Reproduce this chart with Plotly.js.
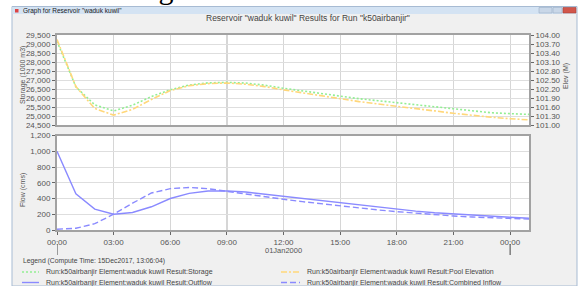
<!DOCTYPE html>
<html>
<head>
<meta charset="utf-8">
<script src="https://cdn.plot.ly/plotly-3.0.1.min.js"></script>
<style>
html,body{margin:0;padding:0;background:#fff;}
#chart{width:579px;height:286px;}
</style>
</head>
<body>
<div id="chart"></div>
<script>
// ---- data ----
const hours = [0,1,2,3,4,5,6,7,8,9,10,11,12,13,14,15,16,17,18,19,20,21,22,23,24,25];
const storage = [29150,26620,25620,25280,25600,26080,26460,26720,26840,26870,26830,26710,26540,26390,26230,26070,25960,25850,25740,25620,25500,25390,25280,25180,25130,25090];
const poolElevation = [103.85,102.28,101.55,101.33,101.52,101.85,102.15,102.31,102.38,102.40,102.36,102.28,102.17,102.07,101.96,101.86,101.78,101.70,101.63,101.55,101.47,101.39,101.32,101.26,101.21,101.17];
const outflow = [1000,460,265,200,222,295,400,465,495,497,482,455,425,395,367,340,312,286,262,240,220,204,189,175,162,150];
const combinedInflow = [10,22,80,200,340,470,525,540,525,490,458,424,390,360,332,305,280,255,233,213,195,178,165,155,148,138];
const tickHours = [0,3,6,9,12,15,18,21,24];
const tickLabels = ["00:00","03:00","06:00","09:00","12:00","15:00","18:00","21:00","00:00"];
const dayMarks = [0,24];
const dayLabel = "01Jan2000";
const seriesNames = [
  "Run:k50airbanjir Element:waduk kuwil Result:Storage",
  "Run:k50airbanjir Element:waduk kuwil Result:Pool Elevation",
  "Run:k50airbanjir Element:waduk kuwil Result:Outflow",
  "Run:k50airbanjir Element:waduk kuwil Result:Combined Inflow"
];

// ---- helpers ----
const W = 579, H = 286;
const px = x => x / W;
const py = y => 1 - y / H;

const cGreen = '#93ee93', cOrange = '#ffd77a', cBlue = '#8a8aff';
const styles = [
  {color: cGreen, dash: '2px,2px', width: 1.6},
  {color: cOrange, dash: '6px,2px,2px,2px', width: 1.6},
  {color: cBlue, dash: 'solid', width: 1.4},
  {color: cBlue, dash: '6px,3px', width: 1.4}
];

const traces = [
  {x: hours, y: storage, xaxis: 'x', yaxis: 'y', mode: 'lines', name: seriesNames[0], line: styles[0]},
  {x: hours, y: poolElevation, xaxis: 'x', yaxis: 'y3', mode: 'lines', name: seriesNames[1], line: styles[1]},
  {x: hours, y: outflow, xaxis: 'x2', yaxis: 'y2', mode: 'lines', name: seriesNames[2], line: styles[2]},
  {x: hours, y: combinedInflow, xaxis: 'x2', yaxis: 'y2', mode: 'lines', name: seriesNames[3], line: styles[3]}
];

const tickFont = {family: 'Liberation Sans, Arial, sans-serif', size: 8, color: '#555'};
const frame = {showline: true, linecolor: '#a2a2a2', linewidth: 2, mirror: true, zeroline: false};
const xDom = [px(57), px(529)];
const topDom = [py(125), py(35)];
const botDom = [py(230), py(135.5)];

const shapes = [];
// window body
shapes.push({type:'rect', xref:'paper', yref:'paper', x0:px(12), x1:px(577), y0:py(286), y1:py(6.5), fillcolor:'#f0f0f0', line:{color:'#a7bbd3', width:1}, layer:'below'});
// title bar
shapes.push({type:'rect', xref:'paper', yref:'paper', x0:px(12.5), x1:px(576.5), y0:py(14), y1:py(7), fillcolor:'#d4e3f3', line:{width:0}, layer:'below'});
// icon
shapes.push({type:'rect', xref:'paper', yref:'paper', x0:px(15), x1:px(18.5), y0:py(12.5), y1:py(9), fillcolor:'#d44', line:{width:0}, layer:'below'});
// window buttons
shapes.push({type:'rect', xref:'paper', yref:'paper', x0:px(539), x1:px(552), y0:py(13), y1:py(7.5), fillcolor:'#c9d7e8', line:{color:'#9aaec6', width:0.6}, layer:'below'});
shapes.push({type:'rect', xref:'paper', yref:'paper', x0:px(553), x1:px(562), y0:py(13), y1:py(7.5), fillcolor:'#c9d7e8', line:{color:'#9aaec6', width:0.6}, layer:'below'});
shapes.push({type:'rect', xref:'paper', yref:'paper', x0:px(563), x1:px(576), y0:py(13), y1:py(7.5), fillcolor:'#d2564b', line:{color:'#a94038', width:0.6}, layer:'below'});
// white plot areas
shapes.push({type:'rect', xref:'paper', yref:'paper', x0:xDom[0], x1:xDom[1], y0:topDom[0], y1:topDom[1], fillcolor:'#fff', line:{width:0}, layer:'below'});
shapes.push({type:'rect', xref:'paper', yref:'paper', x0:xDom[0], x1:xDom[1], y0:botDom[0], y1:botDom[1], fillcolor:'#fff', line:{width:0}, layer:'below'});
// day boundary marks
dayMarks.forEach(d => shapes.push({type:'line', xref:'x2', yref:'paper', x0:d, x1:d, y0:py(255), y1:py(244), line:{color:'#444', width:1}}));
// legend samples
const legPos = [[22,39,272],[281,300,272],[22,39,282.5],[281,300,282.5]];
legPos.forEach((p,i) => shapes.push({type:'line', xref:'paper', yref:'paper', x0:px(p[0]), x1:px(p[1]), y0:py(p[2]), y1:py(p[2]), line:styles[i]}));

const annFont = (s, c) => ({family: 'Liberation Sans, Arial, sans-serif', size: s, color: c || '#444'});
const annotations = [
  {text:'Hasil routing 50 tahun', xref:'paper', yref:'paper', x:px(287), y:py(-11.5), xanchor:'right', yanchor:'middle', showarrow:false, font:{family:'Liberation Serif, Times New Roman, serif', size:30, color:'#000'}},
  {text:'Graph for Reservoir "waduk kuwil"', xref:'paper', yref:'paper', x:px(20.5), y:py(10.6), xanchor:'left', yanchor:'middle', showarrow:false, font:annFont(6.5,'#222')},
  {text:'Reservoir "waduk kuwil" Results for Run "k50airbanjir"', xref:'paper', yref:'paper', x:px(308), y:py(18), xanchor:'center', yanchor:'middle', showarrow:false, font:annFont(8.5,'#444')},
  {text:'Storage (1000 m3)', xref:'paper', yref:'paper', x:px(23), y:py(75), textangle:-90, xanchor:'center', yanchor:'middle', showarrow:false, font:annFont(7,'#555')},
  {text:'Elev (M)', xref:'paper', yref:'paper', x:px(566), y:py(76), textangle:-90, xanchor:'center', yanchor:'middle', showarrow:false, font:annFont(7,'#555')},
  {text:'Flow (cms)', xref:'paper', yref:'paper', x:px(23), y:py(190), textangle:-90, xanchor:'center', yanchor:'middle', showarrow:false, font:annFont(7,'#555')},
  {text:dayLabel, xref:'x2', yref:'paper', x:12, y:py(250), xanchor:'center', yanchor:'middle', showarrow:false, font:annFont(7.5,'#555')},
  {text:'Legend (Compute Time: 15Dec2017, 13:06:04)', xref:'paper', yref:'paper', x:px(21), y:py(261), xanchor:'left', yanchor:'middle', showarrow:false, font:annFont(6.8,'#444')}
];
const legText = [[44,272],[305,272],[44,282.5],[305,282.5]];
legText.forEach((p,i) => annotations.push({text:seriesNames[i], xref:'paper', yref:'paper', x:px(p[0]), y:py(p[1]), xanchor:'left', yanchor:'middle', showarrow:false, font:annFont(7,'#444')}));

const layout = {
  width: W, height: H,
  margin: {l:0, r:0, t:0, b:0, pad:0},
  paper_bgcolor: '#ffffff',
  plot_bgcolor: 'rgba(0,0,0,0)',
  showlegend: false,
  xaxis: Object.assign({}, frame, {domain: xDom, range: [0,25], anchor: 'y', tickvals: tickHours, showticklabels: false, ticks: '', showgrid: true, gridcolor: '#d6d6d6', gridwidth: 1.2}),
  yaxis: Object.assign({}, frame, {domain: topDom, range: [24500,29500], anchor: 'x', tick0: 24500, dtick: 500, tickformat: ',d', ticks: 'outside', ticklen: 3, tickcolor: '#666', tickfont: tickFont, showgrid: true, gridcolor: '#dedede', gridwidth: 1, mirror: true}),
  yaxis3: {overlaying: 'y', side: 'right', anchor: 'x', range: [101,104], tick0: 101, dtick: 0.3, tickformat: '.2f', ticks: 'outside', ticklen: 3, tickcolor: '#666', tickfont: tickFont, showgrid: false, showline: true, linecolor: '#a2a2a2', linewidth: 2, zeroline: false},
  xaxis2: Object.assign({}, frame, {domain: xDom, range: [0,25], anchor: 'y2', tickvals: tickHours, ticktext: tickLabels, ticks: 'outside', ticklen: 3, tickcolor: '#666', tickfont: tickFont, showgrid: true, gridcolor: '#d6d6d6', gridwidth: 1.2}),
  yaxis2: Object.assign({}, frame, {domain: botDom, range: [0,1200], anchor: 'x2', tick0: 0, dtick: 200, tickformat: ',d', ticks: 'outside', ticklen: 3, tickcolor: '#666', tickfont: tickFont, showgrid: true, gridcolor: '#dedede', gridwidth: 1}),
  shapes: shapes,
  annotations: annotations
};

Plotly.newPlot('chart', traces, layout, {displayModeBar: false, staticPlot: true});
</script>
</body>
</html>
